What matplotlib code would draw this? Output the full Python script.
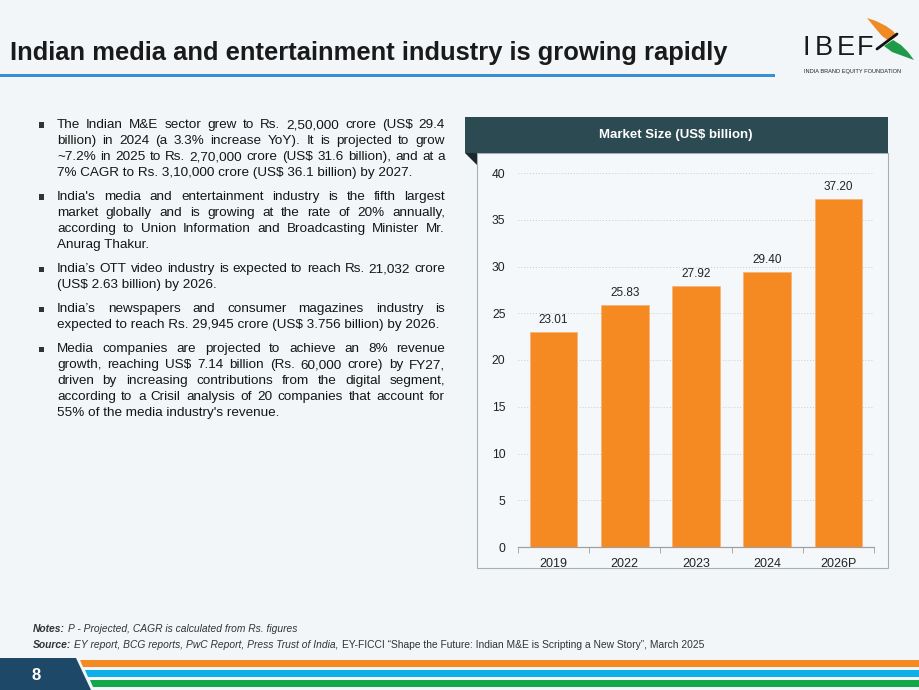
import matplotlib
matplotlib.use("Agg")
import matplotlib.pyplot as plt
from matplotlib.patches import Polygon, Rectangle

plt.rcParams['font.family'] = ['Liberation Sans', 'DejaVu Sans']

years = ['2019', '2022', '2023', '2024', '2026P']
market_size = [23.01, 25.83, 27.92, 29.40, 37.20]
y_ticks = [0, 5, 10, 15, 20, 25, 30, 35, 40]

title = 'Indian media and entertainment industry is growing rapidly'
chart_title = 'Market Size (US$ billion)'

bullets = [
    ["The Indian M&E sector grew to Rs. 2,50,000 crore (US$ 29.4",
     "billion) in 2024 (a 3.3% increase YoY). It is projected to grow",
     "~7.2% in 2025 to Rs. 2,70,000 crore (US$ 31.6 billion), and at a",
     "7% CAGR to Rs. 3,10,000 crore (US$ 36.1 billion) by 2027."],
    ["India's media and entertainment industry is the fifth largest",
     "market globally and is growing at the rate of 20% annually,",
     "according to Union Information and Broadcasting Minister Mr.",
     "Anurag Thakur."],
    ["India\u2019s OTT video industry is expected to reach Rs. 21,032 crore",
     "(US$ 2.63 billion) by 2026."],
    ["India\u2019s newspapers and consumer magazines industry is",
     "expected to reach Rs. 29,945 crore (US$ 3.756 billion) by 2026."],
    ["Media companies are projected to achieve an 8% revenue",
     "growth, reaching US$ 7.14 billion (Rs. 60,000 crore) by FY27,",
     "driven by increasing contributions from the digital segment,",
     "according to a Crisil analysis of 20 companies that account for",
     "55% of the media industry's revenue."],
]

W, H = 920, 690
BG = '#F2F6F8'
ORANGE = '#F58A23'

fig = plt.figure(figsize=(W / 100, H / 100), dpi=100, facecolor=BG)
renderer = fig.canvas.get_renderer()


def fx(x):
    return x / W


def fy(y):
    return 1 - y / H


def px(points):
    return [(fx(x), fy(y)) for x, y in points]


def text_width(s, **kw):
    t = fig.text(0, 0, s, **kw)
    w = t.get_window_extent(renderer).width
    t.remove()
    return w


# title and underline
fig.text(fx(10), fy(53), title, fontsize=18.4, fontweight='bold', color='#1A1A1A', va='center')
fig.patches.append(Rectangle((0, fy(77)), fx(775), 3 / H, transform=fig.transFigure,
                             facecolor='#3A8FD2', edgecolor='none'))

# IBEF logo
for ch, lx in zip('IBEF', [803, 815, 837, 857]):
    fig.text(fx(lx), fy(48), ch, fontsize=19.5, color='#1A1A1A', va='center')
fig.text(fx(804), fy(71), 'INDIA BRAND EQUITY FOUNDATION', fontsize=4.1, color='#222222', va='center')
fig.patches.append(Polygon(px([(867, 18), (876, 21), (886, 26), (893, 31), (897, 36), (889, 41),
                               (882, 36), (876, 29)]),
                           closed=True, transform=fig.transFigure, facecolor='#F08A24', edgecolor='none'))
fig.patches.append(Polygon(px([(884, 46), (893, 40), (901, 45), (908, 52), (914, 60), (903, 56), (892, 52)]),
                           closed=True, transform=fig.transFigure, facecolor='#1E9A48', edgecolor='none'))
fig.lines.append(plt.Line2D([fx(877), fx(897)], [fy(49), fy(34)], transform=fig.transFigure,
                            color='#111111', lw=2.0, solid_capstyle='round'))

# bullet text, justified
fs = 9.7
left, right = 57, 445
line_h = 16.0
y = 125

for para in bullets:
    fig.patches.append(Rectangle((fx(39), fy(y + 2.5)), 5 / W, 5 / H, transform=fig.transFigure,
                                 facecolor='#333333', edgecolor='none'))
    for i, line in enumerate(para):
        words = line.split(' ')
        if i == len(para) - 1 or len(words) == 1:
            fig.text(fx(left), fy(y), line, fontsize=fs, color='#151515', va='center')
        else:
            widths = [text_width(w, fontsize=fs) for w in words]
            gap = (right - left - sum(widths)) / (len(words) - 1)
            x = left
            for w, wd in zip(words, widths):
                fig.text(fx(x), fy(y), w, fontsize=fs, color='#151515', va='center')
                x += wd + gap
        y += line_h
    y += 8

# chart panel
fig.patches.append(Rectangle((fx(477), fy(568)), fx(888 - 477), (568 - 153) / H, transform=fig.transFigure,
                             facecolor='#F5F8FA', edgecolor='#A8B0B4', lw=0.8))
fig.patches.append(Rectangle((fx(465), fy(153)), fx(888 - 465), 36 / H, transform=fig.transFigure,
                             facecolor='#2B4A52', edgecolor='none'))
fig.patches.append(Polygon(px([(465, 153), (477, 153), (477, 165)]), closed=True,
                           transform=fig.transFigure, facecolor='#18282C', edgecolor='none'))
fig.text(fx(676), fy(135), chart_title, fontsize=9.5, fontweight='bold', color='white',
         ha='center', va='center')

ax = fig.add_axes([fx(518), fy(547), fx(874 - 518), (547 - 173) / H])
ax.set_zorder(5)
ax.set_facecolor('none')
ax.bar(range(len(years)), market_size, width=0.67, color=ORANGE, edgecolor='#F8B47A', linewidth=0.6,
       zorder=3)
for i, v in enumerate(market_size):
    ax.text(i, v + 0.65, f'{v:.2f}', ha='center', va='bottom', fontsize=8.5, color='#222222')
ax.set_xlim(-0.5, len(years) - 0.5)
ax.set_ylim(0, 40)
ax.set_yticks(y_ticks)
ax.set_xticks(range(len(years)))
ax.set_xticklabels(years)
ax.set_xticks([i - 0.5 for i in range(len(years) + 1)], minor=True)
ax.tick_params(axis='x', which='major', length=0, labelsize=9, pad=8, labelcolor='#222222')
ax.tick_params(axis='x', which='minor', length=4, color='#A0A0A0', direction='out')
ax.tick_params(axis='y', length=0, labelsize=8.7, pad=9, labelcolor='#222222')
ax.grid(axis='y', linestyle=(0, (1, 2)), color='#C8CCCE', lw=0.7, zorder=0)
for s in ['top', 'right', 'left']:
    ax.spines[s].set_visible(False)
ax.spines['bottom'].set_color('#A0A0A0')
ax.spines['bottom'].set_linewidth(0.9)

# footnotes
fsz = 7.4
fn = dict(fontsize=fsz, color='#333333', va='center')
fig.text(fx(33), fy(629), 'Notes:', fontweight='bold', style='italic', **fn)
wn = text_width('Notes:', fontweight='bold', style='italic', fontsize=fsz)
fig.text(fx(33 + wn + 3), fy(629), 'P - Projected, CAGR is calculated from Rs. figures', style='italic', **fn)
fig.text(fx(33), fy(645), 'Source:', fontweight='bold', style='italic', **fn)
ws = text_width('Source:', fontweight='bold', style='italic', fontsize=fsz)
src1 = 'EY report, BCG reports, PwC Report, Press Trust of India,'
fig.text(fx(33 + ws + 3), fy(645), src1, style='italic', **fn)
w1 = text_width(src1, style='italic', fontsize=fsz)
fig.text(fx(33 + ws + 3 + w1 + 3), fy(645),
         'EY-FICCI \u201cShape the Future: Indian M&E is Scripting a New Story\u201d, March 2025', **fn)

# bottom stripes
fig.patches.append(Polygon(px([(80, 660), (920, 660), (920, 667), (83, 667)]), closed=True,
                           transform=fig.transFigure, facecolor='#F58A23', edgecolor='none'))
fig.patches.append(Polygon(px([(85, 670), (920, 670), (920, 677), (88, 677)]), closed=True,
                           transform=fig.transFigure, facecolor='#0EAEEA', edgecolor='none'))
fig.patches.append(Polygon(px([(90, 680), (920, 680), (920, 687), (93, 687)]), closed=True,
                           transform=fig.transFigure, facecolor='#12A84A', edgecolor='none'))
fig.patches.append(Polygon(px([(0, 658), (76, 658), (91, 690), (0, 690)]), closed=True,
                           transform=fig.transFigure, facecolor='#1D4868', edgecolor='none'))
fig.text(fx(36), fy(675), '8', fontsize=12, fontweight='bold', color='white', ha='center', va='center')

fig.savefig('out.png', dpi=100, facecolor=BG)
